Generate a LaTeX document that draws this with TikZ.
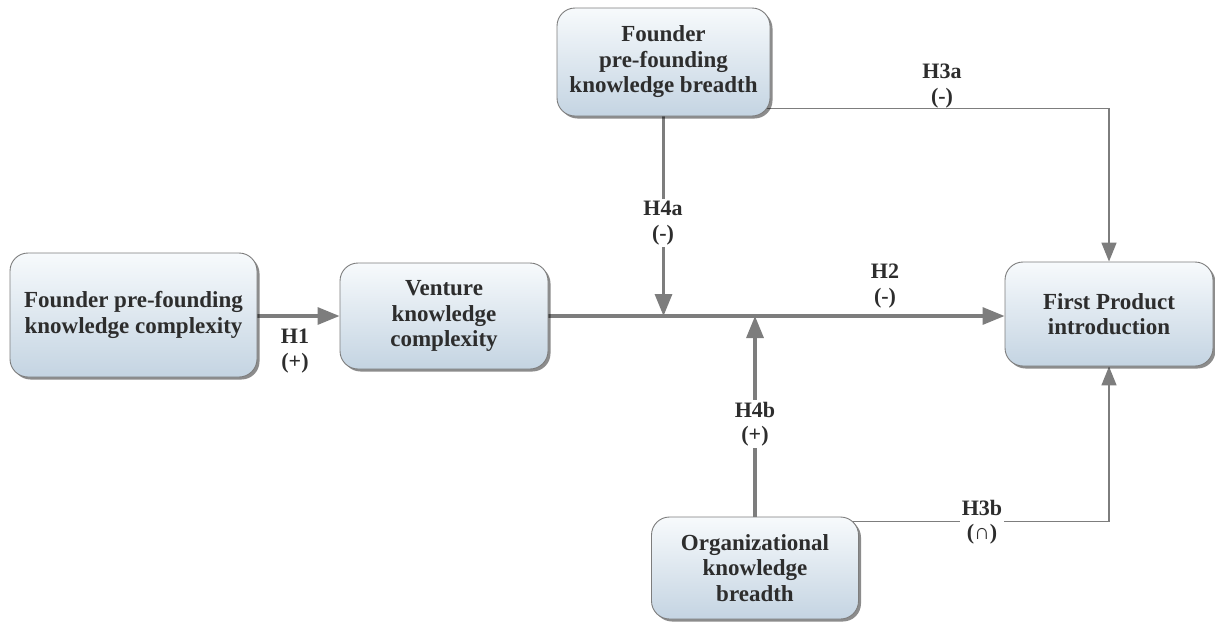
\documentclass[tikz,border=0pt]{standalone}
\usepackage{fontspec}
\setmainfont{Liberation Serif}
\usetikzlibrary{arrows.meta,shadows,backgrounds}
\definecolor{boxtop}{RGB}{247,250,252}
\definecolor{boxbot}{RGB}{196,212,226}
\definecolor{edgec}{RGB}{125,125,125}
\definecolor{txt}{RGB}{45,45,45}
\begin{document}
\begin{tikzpicture}[x=1pt,y=-1pt,
  box/.style={rounded corners=18pt, draw=edgec, line width=0.9pt,
    top color=boxtop, bottom color=boxbot,
    drop shadow={shadow xshift=2.5pt,shadow yshift=-2.5pt,fill=black,opacity=0.45},
    align=center, font=\bfseries\fontsize{23}{25.5}\selectfont, text=txt, inner sep=0pt},
  lbl/.style={fill=white, inner sep=2pt, align=center, text=txt,
    font=\bfseries\fontsize{22}{24.5}\selectfont},
  plainlbl/.style={lbl, fill=none},
  thick conn/.style={draw=edgec, line width=3.2pt, -{Triangle[length=22pt,width=17pt]}},
  thin conn/.style={draw=edgec, line width=1.6pt, -{Triangle[length=19pt,width=15pt]}}]
\useasboundingbox (0,0) rectangle (1215,622);
\node[box, minimum width=247pt, minimum height=124pt] (A) at (133.5,315) {Founder pre-founding\\knowledge complexity};
\node[box, minimum width=208pt, minimum height=106pt] (B) at (444,316) {Venture\\knowledge\\complexity};
\node[box, minimum width=213pt, minimum height=108pt] (C) at (663.5,62) {Founder\\pre-founding\\knowledge breadth};
\node[box, minimum width=208pt, minimum height=104pt] (D) at (1109,314) {First Product\\introduction};
\node[box, minimum width=207pt, minimum height=102pt] (E) at (755,568) {Organizational\\knowledge\\breadth};
\begin{scope}[on background layer]
\draw[thick conn] (A.east |- 0,316) -- (B.west |- 0,316);
\draw[thick conn] (B.east |- 0,316) -- (D.west |- 0,316);
\draw[thick conn] (C.south) -- (C.south |- 0,316);
\draw[thick conn] (E.north) -- (E.north |- 0,316);
\draw[thin conn] ([xshift=-15pt,yshift=8pt]C.south east) -| (D.north);
\draw[thin conn] ([xshift=-15pt,yshift=-5pt]E.north east) -| (D.south);
\end{scope}
\node[plainlbl] (l1) at (295,351) {H1\\(+)};
\node[plainlbl] (l2) at (885,286) {H2\\(-)};
\node[plainlbl] (l3a) at (942,86) {H3a\\(-)};
\node[lbl] (l3b) at (982,522) {H3b\\(∩)};
\node[lbl] (l4a) at (663,223) {H4a\\(-)};
\node[lbl] (l4b) at (755,424) {H4b\\(+)};
\end{tikzpicture}
\end{document}
